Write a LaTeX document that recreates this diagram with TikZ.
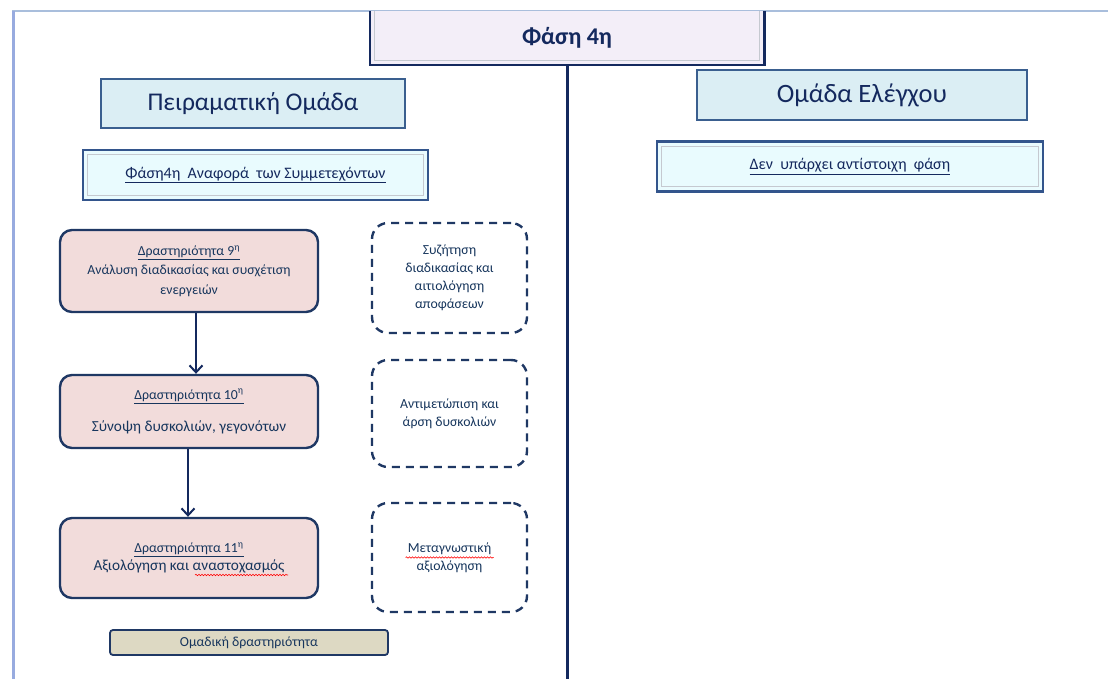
\documentclass[tikz,border=0pt]{standalone}
\usepackage{fontspec}
\setmainfont{Carlito}
\usetikzlibrary{arrows.meta,decorations.pathmorphing}

\definecolor{navy}{HTML}{1F3864}
\definecolor{deepnavy}{HTML}{14295E}
\definecolor{inknavy}{HTML}{17365D}
\definecolor{pagefrm}{HTML}{A9BEDC}
\definecolor{titlefill}{HTML}{F3EEF8}
\definecolor{headfill}{HTML}{DBEEF4}
\definecolor{headline}{HTML}{3A5F8F}
\definecolor{subfill}{HTML}{E9FBFE}
\definecolor{subline}{HTML}{33558C}
\definecolor{innergray}{HTML}{C5C9D0}
\definecolor{actfill}{HTML}{F2DCDB}
\definecolor{groupfill}{HTML}{DDD9C3}

\begin{document}
\begin{tikzpicture}[x=1pt,y=-1pt,
  pageline/.style={draw=pagefrm,line width=1.6pt},
  titlebox/.style={fill=titlefill,inner sep=0pt,minimum width=394pt,minimum height=54pt,
    text=deepnavy,font=\fontsize{24}{28}\selectfont\bfseries},
  headbox/.style={draw=headline,line width=1.8pt,fill=headfill,inner sep=0pt,
    text=deepnavy,font=\fontsize{25.5}{30}\selectfont},
  subbox/.style={draw=subline,line width=2.6pt,fill=subfill,inner sep=0pt,
    text=deepnavy,font=\fontsize{16}{19}\selectfont},
  inner rule/.style={draw=innergray,line width=1pt},
  actbox/.style={draw=navy,line width=2.4pt,fill=actfill,rounded corners=12pt,inner sep=0pt,
    minimum width=258pt,align=center,text=inknavy},
  notebox/.style={draw=navy,line width=2.4pt,dash pattern=on 8pt off 6pt,rounded corners=16pt,
    inner sep=0pt,minimum width=155pt,align=center,text=inknavy,font=\fontsize{13.8}{18}\selectfont},
  groupbox/.style={draw=navy,line width=1.8pt,fill=groupfill,rounded corners=3pt,inner sep=0pt,
    minimum width=278pt,minimum height=25pt,text=inknavy,font=\fontsize{13.8}{16}\selectfont},
  flow/.style={draw=deepnavy,line width=2pt,-{Straight Barb[length=7pt,width=13pt,line width=2pt]}},
  divider/.style={draw=deepnavy,line width=3pt},
  spell/.style={draw=red,line width=0.6pt,decorate,decoration={snake,amplitude=0.7pt,segment length=3pt}}
]
\useasboundingbox[fill=white] (0,0) rectangle (1108,679);

% page frame
\draw[pageline] (1108,11) -- (12,11);
\draw[draw=pagefrm!90!blue,line width=3pt] (13.5,11) -- (13.5,679);

% title block, open at the top edge of the page
\node[titlebox] (title) at (567,38) {\raisebox{3pt}{Φάση 4η}};
\draw[draw=deepnavy,line width=2.6pt] (title.north west) |- (title.south east) -- (title.north east);
\draw[inner rule] ([xshift=5pt]title.north west) |- ([shift={(-5pt,5pt)}]title.south east)
  -- ([xshift=-5pt]title.north east);

% divider between the two groups
\coordinate (divend) at (567,679);
\draw[divider] (title.south) -- (divend);

% group headers
\node[headbox,minimum width=304pt,minimum height=49pt] (expgrp) at (253,103.5) {\raisebox{-2pt}{Πειραματική Ομάδα}};
\node[headbox,minimum width=330pt,minimum height=50pt,font=\fontsize{26.5}{30}\selectfont] (ctlgrp) at (862,95) {\raisebox{-3pt}{Ομάδα Ελέγχου}};

% phase headers
\node[subbox,minimum width=345pt,minimum height=50pt] (expphase) at (255.5,175)
  {\underline{Φάση4η\ \ Αναφορά\ \ των\ Συμμετεχόντων}};
\draw[inner rule] ([shift={(6pt,-6pt)}]expphase.north west) rectangle ([shift={(-6pt,6pt)}]expphase.south east);
\node[subbox,minimum width=386pt,minimum height=50pt] (ctlphase) at (850,166.5)
  {\underline{Δεν\ \ υπάρχει αντίστοιχη\ \ φάση}};
\draw[inner rule] ([shift={(6pt,-6pt)}]ctlphase.north west) rectangle ([shift={(-6pt,6pt)}]ctlphase.south east);

% activities
\node[actbox,minimum height=82pt,font=\fontsize{13.8}{19.5}\selectfont] (act9) at (189,271)
  {\underline{Δραστηριότητα 9\textsuperscript{η}}\\Ανάλυση διαδικασίας και συσχέτιση\\ενεργειών};
\node[actbox,minimum height=73pt,font=\fontsize{15.3}{17}\selectfont] (act10) at (189,411.5)
  {{\fontsize{13.8}{15}\selectfont\underline{Δραστηριότητα 10\textsuperscript{η}}}\\[15pt]Σύνοψη δυσκολιών, γεγονότων};
\node[actbox,minimum height=80pt,font=\fontsize{15.3}{18}\selectfont] (act11) at (189,558)
  {{\fontsize{13.8}{15}\selectfont\underline{Δραστηριότητα 11\textsuperscript{η}}}\\Αξιολόγηση και αναστοχασμός};

\draw[flow] ([xshift=7pt]act9.south) -- ([xshift=7pt]act10.north);
\draw[flow] ([xshift=-1pt]act10.south) -- ([xshift=-1pt]act11.north);

% accompanying notes
\node[notebox,minimum height=110pt] (note9) at (449.5,278)
  {Συζήτηση\\διαδικασίας και\\αιτιολόγηση\\αποφάσεων};
\node[notebox,minimum height=107pt] (note10) at (449.5,413.5)
  {Αντιμετώπιση και\\άρση δυσκολιών};
\node[notebox,minimum height=109pt] (note11) at (449.5,557.5)
  {Μεταγνωστική\\αξιολόγηση};

% spelling marks under two words
\draw[spell] ([shift={(-44pt,0pt)}]note11.center) -- ([shift={(44pt,0pt)}]note11.center);
\draw[spell] ([shift={(6pt,-17pt)}]act11.center) -- ([shift={(99pt,-17pt)}]act11.center);

% legend
\node[groupbox] (legend) at (249,642.5) {Ομαδική δραστηριότητα};
\end{tikzpicture}
\end{document}
